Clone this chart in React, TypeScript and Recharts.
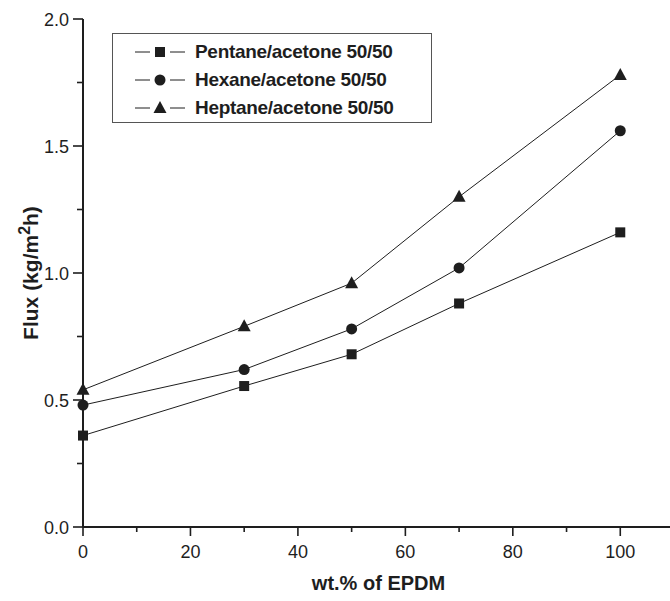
import { LineChart, Line, XAxis, YAxis, Legend, Label } from "recharts";

const xValues = [0, 30, 50, 70, 100];
const pentane = [0.36, 0.555, 0.68, 0.88, 1.16];
const hexane = [0.48, 0.62, 0.78, 1.02, 1.56];
const heptane = [0.54, 0.79, 0.96, 1.3, 1.78];
const seriesKeys = ["pentane", "hexane", "heptane"];
const seriesNames = ["Pentane/acetone 50/50", "Hexane/acetone 50/50", "Heptane/acetone 50/50"];
const xTicks = [0, 10, 20, 30, 40, 50, 60, 70, 80, 90, 100, 110];
const yTicks = [0, 0.25, 0.5, 0.75, 1, 1.25, 1.5, 1.75, 2];

const data = xValues.map((x, i) => ({ x, pentane: pentane[i], hexane: hexane[i], heptane: heptane[i] }));

const INK = "#1e1e1e";
const FONT = "'Liberation Sans', Arial, sans-serif";

type Shape = "square" | "circle" | "triangle";
const shapes: Shape[] = ["square", "circle", "triangle"];

function Marker({ cx, cy, shape }: { cx: number; cy: number; shape: Shape }) {
  if (cx == null || cy == null) return null;
  if (shape === "square") return <rect x={cx - 5} y={cy - 5} width={10} height={10} fill={INK} />;
  if (shape === "circle") return <circle cx={cx} cy={cy} r={5.5} fill={INK} />;
  return <polygon points={`${cx},${cy - 7} ${cx + 6.5},${cy + 5} ${cx - 6.5},${cy + 5}`} fill={INK} />;
}

function XTick({ x, y, payload }: any) {
  const v = payload.value;
  const major = v % 20 === 0;
  return (
    <g>
      <line x1={x} x2={x} y1={y} y2={y + (major ? 9 : 5)} stroke={INK} strokeWidth={1.6} />
      {major && (
        <text x={x} y={y + 31} textAnchor="middle" fontSize={18} fontFamily={FONT} fill={INK}>
          {v}
        </text>
      )}
    </g>
  );
}

function YTick({ x, y, payload }: any) {
  const v = payload.value;
  const major = Math.abs(v * 2 - Math.round(v * 2)) < 1e-6;
  return (
    <g>
      <line x1={x - (major ? 10 : 6)} x2={x} y1={y} y2={y} stroke={INK} strokeWidth={1.6} />
      {major && (
        <text x={x - 14} y={y + 6.5} textAnchor="end" fontSize={18} fontFamily={FONT} fill={INK}>
          {v.toFixed(1)}
        </text>
      )}
    </g>
  );
}

function LegendBox() {
  return (
    <div
      style={{
        border: "1px solid #555",
        background: "#fff",
        width: 318,
        padding: "4px 0 0 0",
        fontFamily: FONT,
        fontWeight: "bold",
        fontSize: 19,
        letterSpacing: -0.3,
        color: INK,
      }}
    >
      {seriesNames.map((name, i) => (
        <div key={name} style={{ display: "flex", alignItems: "center", height: 28 }}>
          <svg width={82} height={20} style={{ flex: "none" }}>
            <line x1={22} x2={72} y1={10} y2={10} stroke={INK} strokeWidth={1} />
            <rect x={37} y={3} width={20} height={14} fill="#fff" />
            <Marker cx={47} cy={10} shape={shapes[i]} />
          </svg>
          <span>{name}</span>
        </div>
      ))}
    </div>
  );
}

function YTitle({ viewBox }: any) {
  const cx = 38;
  const cy = viewBox.y + viewBox.height / 2;
  return (
    <text
      transform={`translate(${cx},${cy}) rotate(-90)`}
      textAnchor="middle"
      fontFamily={FONT}
      fontWeight="bold"
      fontSize={21}
      fill={INK}
    >
      Flux (kg/m<tspan dy={-8} fontSize={16}>2</tspan>
      <tspan dy={8}>h)</tspan>
    </text>
  );
}

export default function App() {
  return (
    <div style={{ position: "absolute", left: 0, top: 0, width: 670, height: 601, overflow: "hidden", background: "#fff" }}>
      <LineChart width={674} height={601} data={data} margin={{ top: 19, right: 0, bottom: 0, left: 0 }}>
        <XAxis
          dataKey="x"
          type="number"
          domain={[0, 110]}
          ticks={xTicks}
          interval={0}
          height={74}
          tickSize={0}
          tickMargin={0}
          tickLine={false}
          tick={<XTick />}
          axisLine={{ stroke: INK, strokeWidth: 2 }}
        >
          <Label value="wt.% of EPDM" position="insideBottom" offset={11} fontFamily={FONT} fontWeight="bold" fontSize={20} fill={INK} />
        </XAxis>
        <XAxis xAxisId="top" orientation="top" type="number" dataKey="x" domain={[0, 110]} height={0} tick={false} tickLine={false} axisLine={{ stroke: INK, strokeWidth: 2 }} />
        <YAxis
          type="number"
          domain={[0, 2]}
          ticks={yTicks}
          interval={0}
          width={83}
          tickSize={0}
          tickMargin={0}
          tickLine={false}
          tick={<YTick />}
          axisLine={{ stroke: INK, strokeWidth: 2 }}
        >
          <Label content={<YTitle />} />
        </YAxis>
        <Legend
          layout="vertical"
          align="center"
          verticalAlign="middle"
          content={<LegendBox />}
          wrapperStyle={{ position: "absolute", left: 112, top: 33, width: 320 }}
        />
        {seriesKeys.map((k, i) => (
          <Line
            key={k}
            dataKey={k}
            name={seriesNames[i]}
            stroke={INK}
            strokeWidth={1}
            isAnimationActive={false}
            dot={(p: any) => <Marker key={`${k}-${p.index}`} cx={p.cx} cy={p.cy} shape={shapes[i]} />}
            activeDot={false}
          />
        ))}
      </LineChart>
    </div>
  );
}
